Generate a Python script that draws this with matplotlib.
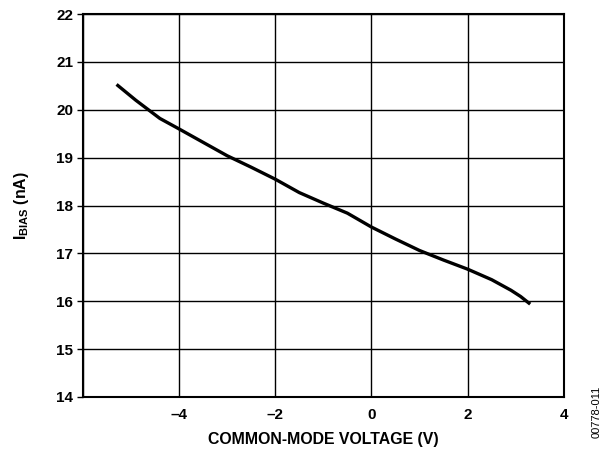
import matplotlib
matplotlib.use("Agg")
import matplotlib.pyplot as plt

# ── data ─────────────────────────────────────────────────────────────────────
cm_voltage = [-5.3, -4.9, -4.4, -4.0, -3.5, -3.0, -2.5, -2.0, -1.5, -1.0,
              -0.5, 0.0, 0.5, 1.0, 1.5, 2.0, 2.5, 2.9, 3.1, 3.2, 3.3]
i_bias = [20.53, 20.20, 19.82, 19.60, 19.32, 19.04, 18.80, 18.55, 18.27, 18.05,
          17.84, 17.55, 17.30, 17.06, 16.86, 16.67, 16.45, 16.23, 16.10, 16.02, 15.94]
x_ticks = [-4, -2, 0, 2, 4]
x_tick_labels = ["\u20134", "\u20132", "0", "2", "4"]
x_grid = [-6, -4, -2, 0, 2, 4]
y_ticks = list(range(14, 23))

plt.rcParams["font.family"] = ["Liberation Sans", "DejaVu Sans"]
plt.rcParams["font.weight"] = "bold"
plt.rcParams["mathtext.fontset"] = "custom"
plt.rcParams["mathtext.rm"] = "Liberation Sans"
plt.rcParams["mathtext.bf"] = "Liberation Sans:bold"

fig = plt.figure(figsize=(6.05, 4.54), dpi=100)
ax = fig.add_axes([0.137, 0.1256, 0.795, 0.8434])

ax.plot(cm_voltage, i_bias, color="black", lw=2.4, solid_capstyle="butt", zorder=3)

ax.set_xlim(-6, 4)
ax.set_ylim(14, 22)
ax.set_xticks(x_grid, minor=True)
ax.set_xticks(x_ticks)
ax.set_xticklabels(x_tick_labels)
ax.set_yticks(y_ticks)
ax.grid(True, which="both", axis="x", color="black", lw=1.0)
ax.grid(True, axis="y", color="black", lw=1.0)
ax.tick_params(axis="x", which="both", length=0, pad=8, labelsize=11)
ax.tick_params(axis="y", length=4, width=1, direction="out", pad=3, labelsize=11)
for lab in ax.get_xticklabels() + ax.get_yticklabels():
    lab.set_fontweight("bold")
for s in ax.spines.values():
    s.set_linewidth(1.5)

ax.set_xlabel("COMMON-MODE VOLTAGE (V)", fontsize=11.4, fontweight="bold", labelpad=7)
ax.set_ylabel(r"I$_{\mathbf{BIAS}}$ (nA)", fontsize=11.4, fontweight="bold", labelpad=18)

fig.text(0.986, 0.092, "00778-011", rotation=90, fontsize=8, fontweight="normal",
         ha="center", va="center")

fig.savefig("out.png", dpi=100)
